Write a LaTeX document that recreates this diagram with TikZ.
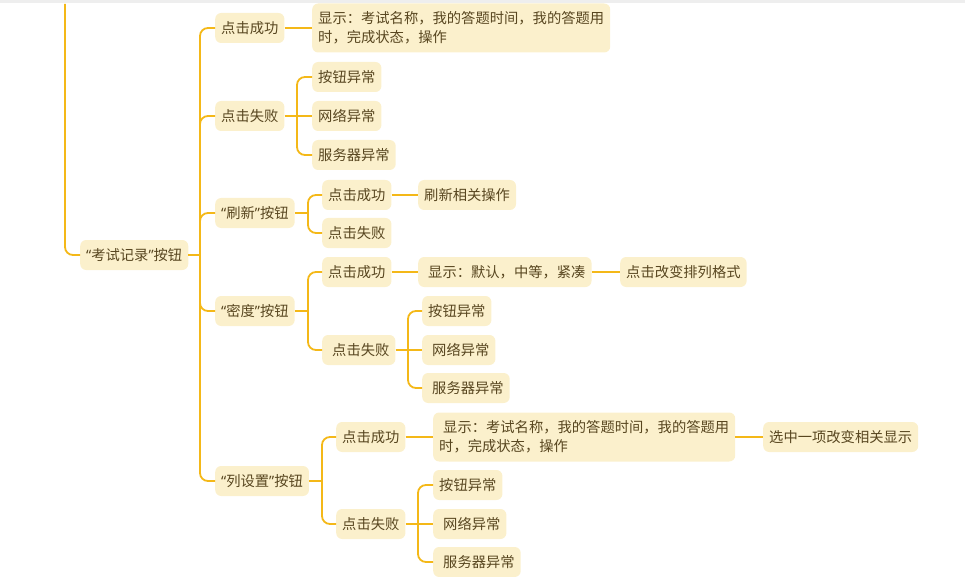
\documentclass[tikz,border=0pt]{standalone}
\usepackage{fontspec}
\setmainfont{Noto Sans CJK SC}
\newfontfamily\lat{Noto Sans}
\usetikzlibrary{calc}
\definecolor{linkc}{RGB}{244,184,24}
\definecolor{boxfill}{RGB}{251,240,204}
\definecolor{txtc}{RGB}{88,70,32}
\definecolor{topbar}{RGB}{238,238,238}
\tikzset{
  box/.style={fill=boxfill, rounded corners=6pt, minimum height=30pt, inner xsep=6pt, inner ysep=0pt,
    text=txtc, font=\fontsize{14.3}{19}\selectfont, anchor=west},
  descbox/.style={box, minimum height=49pt, align=left},
  link/.style={draw=linkc, line width=1.8pt, rounded corners=8pt},
}
\newcommand{\mylq}{{\lat “}}
\newcommand{\myrq}{{\lat ”}}
\begin{document}
\begin{tikzpicture}[x=1pt,y=-1pt]
\useasboundingbox (0,0) rectangle (965,577);
\fill[topbar] (0,0) rectangle (965,3.5);
% nodes
\node[box] (r) at (80,255) {\mylq 考试记录\myrq 按钮};
\node[box] (a1) at (215,28) {点击成功};
\node[box] (a2) at (215,116) {点击失败};
\node[box] (a3) at (215,213) {\mylq 刷新\myrq 按钮};
\node[box] (a4) at (215,311) {\mylq 密度\myrq 按钮};
\node[box] (a5) at (215,481) {\mylq 列设置\myrq 按钮};
\node[descbox] (a1d) at (312,28) {显示：考试名称，我的答题时间，我的答题用\\时，完成状态，操作};
\node[box] (b1) at (312,77) {按钮异常};
\node[box] (b2) at (312,116) {网络异常};
\node[box] (b3) at (312,155) {服务器异常};
\node[box] (c1) at (322,195) {点击成功};
\node[box] (c2) at (322,233) {点击失败};
\node[box] (c1r) at (418,195) {刷新相关操作};
\node[box] (d1) at (322,272) {点击成功};
\node[box] (d2) at (322,350) {\hspace*{4pt}点击失败};
\node[box] (d1r) at (418,272) {\hspace*{4pt}显示：默认，中等，紧凑};
\node[box] (d1rr) at (620,272) {点击改变排列格式};
\node[box] (e1) at (422,311) {按钮异常};
\node[box] (e2) at (422,350) {\hspace*{4pt}网络异常};
\node[box] (e3) at (422,388) {\hspace*{4pt}服务器异常};
\node[box] (f1) at (336,437) {点击成功};
\node[box] (f2) at (336,524) {点击失败};
\node[descbox] (f1r) at (433,437) {\hspace*{4pt}显示：考试名称，我的答题时间，我的答题用\\时，完成状态，操作};
\node[box] (f1rr) at (763,437) {选中一项改变相关显示};
\node[box] (g1) at (433,485) {按钮异常};
\node[box] (g2) at (433,524) {\hspace*{4pt}网络异常};
\node[box] (g3) at (433,562) {\hspace*{4pt}服务器异常};
% bus coordinates
\coordinate (top) at (65,4);
\coordinate (ba) at (200,255);
\coordinate (bb) at (297,116);
\coordinate (bc) at (308,213);
\coordinate (bd) at (308,311);
\coordinate (be) at (408,350);
\coordinate (bf) at (322,481);
\coordinate (bg) at (418,524);
% connectors
\draw[link] (top) |- (r.west);
\draw[link] (r.east) -- (ba);
\foreach \c in {a1,a2,a3,a4,a5} \draw[link] (ba) |- (\c.west);
\draw[link] (a1.east) -- (a1d.west);
\draw[link] (a2.east) -- (bb);
\draw[link] (bb) |- (b1.west);
\draw[link] (bb) -- (b2.west);
\draw[link] (bb) |- (b3.west);
\draw[link] (a3.east) -- (bc);
\draw[link] (bc) |- (c1.west);
\draw[link] (bc) |- (c2.west);
\draw[link] (c1.east) -- (c1r.west);
\draw[link] (a4.east) -- (bd);
\draw[link] (bd) |- (d1.west);
\draw[link] (bd) |- (d2.west);
\draw[link] (d1.east) -- (d1r.west);
\draw[link] (d1r.east) -- (d1rr.west);
\draw[link] (d2.east) -- (be);
\draw[link] (be) |- (e1.west);
\draw[link] (be) -- (e2.west);
\draw[link] (be) |- (e3.west);
\draw[link] (a5.east) -- (bf);
\draw[link] (bf) |- (f1.west);
\draw[link] (bf) |- (f2.west);
\draw[link] (f1.east) -- (f1r.west);
\draw[link] (f1r.east) -- (f1rr.west);
\draw[link] (f2.east) -- (bg);
\draw[link] (bg) |- (g1.west);
\draw[link] (bg) -- (g2.west);
\draw[link] (bg) |- (g3.west);
\end{tikzpicture}
\end{document}
